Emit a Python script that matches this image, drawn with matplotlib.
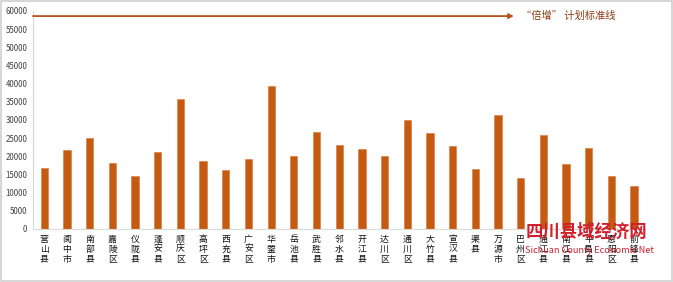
import matplotlib
matplotlib.use("Agg")
import matplotlib.pyplot as plt

plt.rcParams["font.family"] = ["Noto Sans CJK SC", "DejaVu Sans"]

counties = [
    "营山县", "阆中市", "南部县", "嘉陵区", "仪陇县", "蓬安县", "顺庆区",
    "高坪区", "西充县", "广安区", "华蓥市", "岳池县", "武胜县", "邻水县",
    "开江县", "达川区", "通川区", "大竹县", "宣汉县", "渠县", "万源市",
    "巴州区", "通江县", "南江县", "平昌县", "恩阳区", "前锋县",
]
income = [
    16700, 21700, 25000, 18100, 14500, 21100, 35900,
    18600, 16100, 19400, 39300, 20100, 26600, 23100,
    21900, 20200, 29900, 26300, 22800, 16500, 31400,
    13900, 25800, 18000, 22200, 14600, 11700,
]
target = 58600
target_label = "“倍增” 计划标准线"
y_ticks = list(range(0, 60001, 5000))

bar_color = "#C55A11"

fig = plt.figure(figsize=(6.73, 2.82), dpi=100)
ax = fig.add_axes([0.049, 0.188, 0.910, 0.773])

x = list(range(len(counties)))
ax.bar(x, income, width=0.32, color=bar_color, edgecolor="#D8763A", linewidth=0.4, zorder=2)

ax.set_xlim(-0.5, len(counties) - 0.5)
ax.set_ylim(0, 60000)
ax.set_yticks(y_ticks)
ax.set_yticklabels([str(v) for v in y_ticks], fontsize=5.7, style="italic", color="#404040")
ax.set_xticks(x)
ax.set_xticklabels(["\n".join(c) for c in counties], fontsize=6.4, color="#111111",
                   linespacing=1.15, va="top")
ax.tick_params(axis="both", length=0, pad=4)

for side in ["top", "right"]:
    ax.spines[side].set_visible(False)
ax.spines["left"].set_color("#d9d9d9")
ax.spines["bottom"].set_color("#d9d9d9")
ax.spines["left"].set_linewidth(0.8)
ax.spines["bottom"].set_linewidth(0.8)

# "倍增" target line with arrow
ax.annotate("", xy=(20.7, target), xytext=(-0.5, target),
            arrowprops=dict(arrowstyle="-|>", color="#B5531A", lw=1.3,
                            mutation_scale=7, shrinkA=0, shrinkB=0),
            annotation_clip=False, zorder=3)
ax.text(21.0, target, target_label, fontsize=7.4, color="#8B3A0F", va="center", ha="left")

# watermark
fig.text(0.781, 0.178, "四川县域经济网", fontsize=12.5, color="#D0202E", ha="left",
         va="center", fontweight="bold", zorder=5)
fig.text(0.780, 0.113, "Sichuan County Economic Net", fontsize=6.6, color="#D0202E",
         ha="left", va="center", zorder=5)

fig.patches.append(plt.Rectangle((0.002, 0.004), 0.996, 0.992, transform=fig.transFigure,
                                 fill=False, edgecolor="#d0d0d0", linewidth=1.2))

fig.savefig("out.png", dpi=100)
